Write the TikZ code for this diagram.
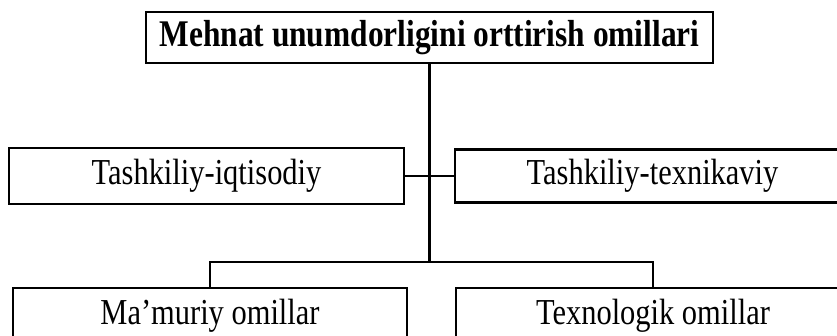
\documentclass[tikz,border=0pt]{standalone}
\usepackage{fontspec}
\usepackage{graphicx}
\setmainfont{Liberation Serif}
\newcommand{\tallbox}[1]{\scalebox{1}[1.2]{#1}}

\begin{document}
\begin{tikzpicture}[x=0.03cm, y=-0.03cm, line width=1.8pt,
  main node/.style={draw, rectangle, inner sep=0pt,
    font=\fontsize{26}{30}\selectfont},
  head node/.style={main node, font=\fontsize{26.8}{32}\selectfont\bfseries}]
  \useasboundingbox (0,0) rectangle (837,336);

  \node[head node, minimum width=17.01cm, minimum height=1.53cm] (1) at (429.5,37.5) {\tallbox{Mehnat unumdorligini orttirish omillari}};
  \node[main node, minimum width=11.85cm, minimum height=1.68cm] (2) at (206.5,176) {\tallbox{Tashkiliy-iqtisodiy}};
  \node[main node, minimum width=11.85cm, minimum height=1.59cm] (3) at (652.5,176) {\tallbox{Tashkiliy-texnikaviy}};
  \node[main node, minimum width=11.82cm, minimum height=1.65cm] (4) at (210,315.5) {\tallbox{Ma’muriy omillar}};
  \node[main node, minimum width=11.82cm, minimum height=1.65cm] (5) at (653,315.5) {\tallbox{Texnologik omillar}};
  \coordinate (fork) at (429.5,262);

  \draw (1) -- (fork);
  \draw (2) -- (3);
  \draw (4) |- (fork) -| (5);
\end{tikzpicture}
\end{document}
